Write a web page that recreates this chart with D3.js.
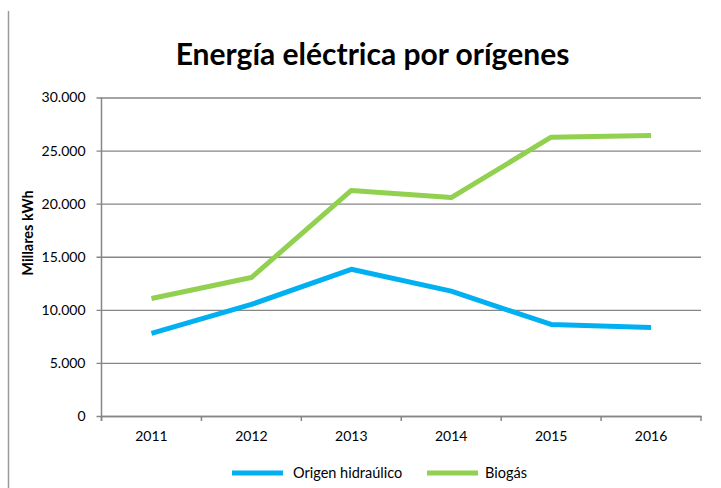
<!DOCTYPE html>
<html><head><meta charset="utf-8">
<script src="https://cdn.jsdelivr.net/npm/d3@7"></script>
<style>body{margin:0;background:#fff}svg{display:block}text{font-family:Lato,"Open Sans",sans-serif}</style>
</head><body><div id="chart"></div>
<script>
const years = ["2011","2012","2013","2014","2015","2016"];
const hidraulico = [7780, 10510, 13820, 11760, 8620, 8340];
const biogas = [11070, 13040, 21250, 20570, 26260, 26420];
const yTicks = [0, 5000, 10000, 15000, 20000, 25000, 30000];
const seriesNames = ["Origen hidraúlico", "Biogás"];
const colors = ["#00B0F0", "#92D050"];

const W = 721, H = 488;
const svg = d3.select("#chart").append("svg").attr("width", W).attr("height", H);
const m = {left: 101.5, right: 701, top: 97.5, bottom: 416};
const x = d3.scaleBand().domain(years).range([m.left, m.right]);
const y = d3.scaleLinear().domain([0, 30000]).range([m.bottom, m.top]);
const gray = "#868686";

// left border line
svg.append("line").attr("x1", 8.5).attr("x2", 8.5).attr("y1", 11).attr("y2", H).attr("stroke", "#9a9a9a").attr("stroke-width", 1.5);

// title
svg.append("text").attr("x", 372.5).attr("y", 65).attr("text-anchor", "middle")
  .attr("font-size", 30).attr("font-weight", "bold").attr("fill", "#000").text("Energía eléctrica por orígenes");

// y axis with gridlines
const fmt = v => d3.format(",")(v).replace(/,/g, ".");
const yAxis = d3.axisLeft(y).tickValues(yTicks).tickFormat(fmt).tickSize(-(m.right - m.left)).tickPadding(12);
const gy = svg.append("g").attr("transform", `translate(${m.left},0)`).call(yAxis);
gy.select(".domain").remove();
gy.selectAll(".tick line").attr("stroke", gray).attr("stroke-width", 1.3).attr("x1", -5);
gy.selectAll(".tick text").attr("font-size", 14).attr("fill", "#000").attr("x", -16);
svg.append("line").attr("x1", m.left).attr("x2", m.left).attr("y1", m.top).attr("y2", m.bottom + 5).attr("stroke", gray).attr("stroke-width", 1.5);

// x axis
const gx = svg.append("g").attr("transform", `translate(0,${m.bottom})`)
  .call(d3.axisBottom(x).tickSize(0).tickPadding(15));
gx.select(".domain").attr("stroke", gray).attr("stroke-width", 1.5);
gx.selectAll(".tick text").attr("font-size", 14).attr("fill", "#000");
const bounds = years.map(d => x(d)).concat([m.right]);
svg.append("g").selectAll("line").data(bounds).join("line")
  .attr("x1", d => d).attr("x2", d => d).attr("y1", m.bottom).attr("y2", m.bottom + 5)
  .attr("stroke", gray).attr("stroke-width", 1.5);

// y axis title
svg.append("text").attr("transform", "translate(33,233) rotate(-90)").attr("text-anchor", "middle")
  .attr("font-size", 14.5).attr("font-weight", "bold").attr("fill", "#000").text("Millares kWh");

// lines
const line = d3.line().x((d, i) => x(years[i]) + x.bandwidth() / 2).y(d => y(d));
[hidraulico, biogas].forEach((s, k) => {
  svg.append("path").datum(s).attr("d", line).attr("fill", "none")
    .attr("stroke", colors[k]).attr("stroke-width", 5).attr("stroke-linejoin", "round");
});

// legend
const leg = [{x: 232, tx: 293}, {x: 427, tx: 485}];
leg.forEach((l, k) => {
  svg.append("line").attr("x1", l.x).attr("x2", l.x + 51).attr("y1", 473).attr("y2", 473)
    .attr("stroke", colors[k]).attr("stroke-width", 5);
  svg.append("text").attr("x", l.tx).attr("y", 478).attr("font-size", 14.5).attr("fill", "#000").text(seriesNames[k]);
});
</script></body></html>
